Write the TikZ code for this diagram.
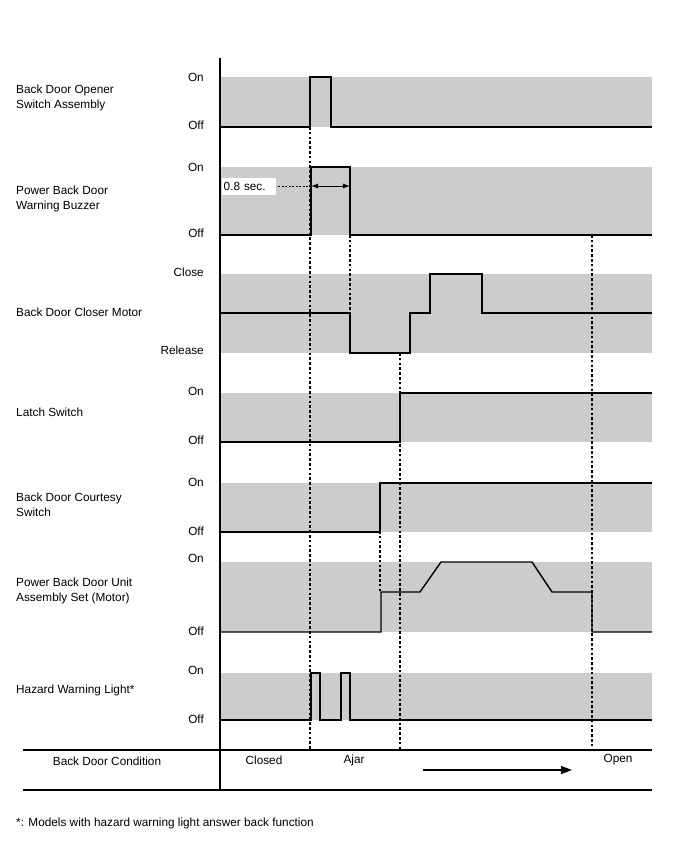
\documentclass[tikz,border=0pt]{standalone}
\usepackage{fontspec}
\usepackage{tikz}
\usetikzlibrary{arrows.meta}
\setmainfont{Liberation Sans}
\definecolor{bandgray}{RGB}{204,204,204}

\begin{document}
\begin{tikzpicture}[x=1pt,y=-1pt,
  sname/.style={anchor=west,align=left,inner sep=0pt,font=\fontsize{11.8}{15}\selectfont},
  lvl/.style={anchor=east,inner sep=0pt,font=\fontsize{11.8}{13}\selectfont},
  cond/.style={inner sep=0pt,font=\fontsize{11.8}{13}\selectfont},
  band/.style={fill=bandgray,draw=none},
  sig/.style={line width=1.4pt,line join=miter},
  guide/.style={dash pattern=on 2.6pt off 2.2pt,line width=1.1pt}]
\useasboundingbox (0,0) rectangle (688,852);

% grey bands
\fill[band] (220,77) rectangle (652,127);
\fill[band] (220,167) rectangle (652,235);
\fill[band] (220,274) rectangle (652,353);
\fill[band] (220,393) rectangle (652,442);
\fill[band] (220,483) rectangle (652,532);
\fill[band] (220,562) rectangle (652,632);
\fill[band] (220,673) rectangle (652,720);

% signal names
\node[sname] (opener) at (16,98) {Back Door Opener\\Switch Assembly};
\node[sname] (buzzer) at (16,199) {Power Back Door\\Warning Buzzer};
\node[sname] (closer) at (16,312) {Back Door Closer Motor};
\node[sname] (latch) at (16,412) {Latch Switch};
\node[sname] (courtesy) at (16,505) {Back Door Courtesy\\Switch};
\node[sname] (unit) at (16,591) {Power Back Door Unit\\Assembly Set (Motor)};
\node[sname] (hazard) at (16,690) {Hazard Warning Light*};

% levels
\node[lvl] (openerOn) at (204,77) {On};
\node[lvl] (openerOff) at (204,125) {Off};
\node[lvl] (buzzerOn) at (204,167) {On};
\node[lvl] (buzzerOff) at (204,233) {Off};
\node[lvl] (closerCl) at (204,272) {Close};
\node[lvl] (closerRel) at (204,350) {Release};
\node[lvl] (latchOn) at (204,391) {On};
\node[lvl] (latchOff) at (204,440) {Off};
\node[lvl] (courtOn) at (204,482) {On};
\node[lvl] (courtOff) at (204,531) {Off};
\node[lvl] (unitOn) at (204,558) {On};
\node[lvl] (unitOff) at (204,631) {Off};
\node[lvl] (hazOn) at (204,670) {On};
\node[lvl] (hazOff) at (204,719) {Off};

% dotted timing marks
\draw[guide] (310,127) -- (310,750);
\draw[guide] (350,235) -- (350,313);
\draw[guide] (400,353) -- (400,750);
\draw[guide] (380,483) -- (380,592);
\draw[guide] (592,235) -- (592,750);

% waveforms
\draw[sig] (220,127) -- (310,127) -- (310,77) -- (331,77) -- (331,127) -- (652,127);
\draw[sig] (220,235) -- (311,235) -- (311,167) -- (350,167) -- (350,235) -- (652,235);
\draw[sig] (220,313) -- (350,313) -- (350,353) -- (410,353) -- (410,313) -- (430,313)
  -- (430,274) -- (482,274) -- (482,313) -- (652,313);
\draw[sig] (220,442) -- (400,442) -- (400,393) -- (652,393);
\draw[sig] (220,532) -- (380,532) -- (380,483) -- (652,483);
\draw[sig] (220,632) -- (381,632) -- (381,592) -- (420,592) -- (441,562) -- (532,562)
  -- (552,592) -- (592,592) -- (592,632) -- (652,632);
\draw[sig] (220,720) -- (311,720) -- (311,673) -- (320,673) -- (320,720) -- (341,720)
  -- (341,673) -- (350,673) -- (350,720) -- (652,720);

% 0.8 sec
\node[fill=white,anchor=west,minimum width=54pt,minimum height=17pt,inner sep=1.5pt,
  font=\fontsize{11.8}{13}\selectfont,text width=51pt,align=left] (delay) at (222,186) {0.8 sec.};
\coordinate (tA) at (311,186);
\coordinate (tB) at (350,186);
\draw[dash pattern=on 2pt off 1.5pt,line width=0.7pt] (delay.east) ++(2,0) -- (tA);
\draw[{Latex[length=7pt,width=5pt]}-{Latex[length=7pt,width=5pt]},line width=0.9pt] (tA) -- (tB);

% axis and condition row
\draw[line width=1.2pt] (220,58) -- (220,790);
\draw[line width=1.2pt] (23,750) -- (652,750);
\draw[line width=1.2pt] (23,790) -- (652,790);
\node[cond] (condname) at (107,761) {Back Door Condition};
\node[cond] (closed) at (264,760) {Closed};
\node[cond] (ajar) at (354,760) {Ajar};
\node[cond] (open) at (618,760) {Open};
\coordinate (arrS) at (423,770);
\coordinate (arrE) at (572,770);
\draw[-{Triangle[length=11pt,width=8pt]},line width=1.1pt] (arrS) -- (arrE);

% footnote
\node[anchor=west,inner sep=0pt,font=\fontsize{11.8}{13}\selectfont] (note) at (16,823)
  {*: Models with hazard warning light answer back function};
\end{tikzpicture}
\end{document}
